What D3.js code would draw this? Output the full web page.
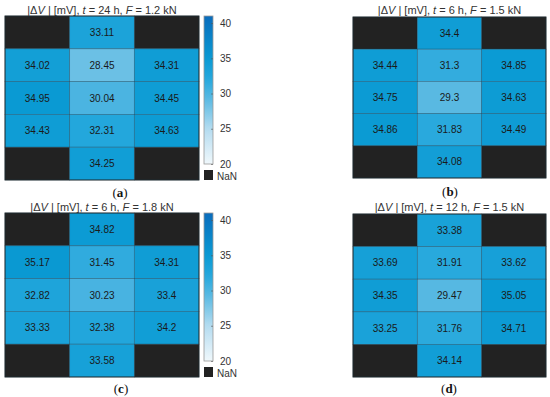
<!DOCTYPE html>
<html><head><meta charset="utf-8">
<script src="https://cdn.jsdelivr.net/npm/d3@7"></script>
<style>
body{margin:0;background:#fff;}
svg{display:block;font-family:"Liberation Sans",Arial,sans-serif;}
</style></head>
<body>
<svg id="c" width="550" height="397"></svg>
<script>
// ---- data ----
const rows = ["r1","r2","r3","r4","r5"];
const cols = ["c1","c2","c3"];
const valuesA = [[NaN,33.11,NaN],[34.02,28.45,34.31],[34.95,30.04,34.45],[34.43,32.31,34.63],[NaN,34.25,NaN]];
const valuesB = [[NaN,34.4,NaN],[34.44,31.3,34.85],[34.75,29.3,34.63],[34.86,31.83,34.49],[NaN,34.08,NaN]];
const valuesC = [[NaN,34.82,NaN],[35.17,31.45,34.31],[32.82,30.23,33.4],[33.33,32.38,34.2],[NaN,33.58,NaN]];
const valuesD = [[NaN,33.38,NaN],[33.69,31.91,33.62],[34.35,29.47,35.05],[33.25,31.76,34.71],[NaN,34.14,NaN]];
const times = ["24","6","6","12"];
const forces = ["1.2","1.5","1.8","1.5"];
const letters = ["a","b","c","d"];
const cbTicks = [20,25,30,35,40];
const cbDomain = [20,41];

// ---- layout ----
const panels = [
  {vals:valuesA, x0:5,   x1:199, y0:16,  y1:180, cb:true,  title:10,  lab:192, labx:120},
  {vals:valuesB, x0:353, x1:546, y0:17,  y1:178, cb:false, title:10,  lab:191, labx:450},
  {vals:valuesC, x0:5,   x1:199, y0:213, y1:377, cb:true,  title:207, lab:388, labx:121},
  {vals:valuesD, x0:353, x1:546, y0:214, y1:377, cb:false, title:207, lab:388, labx:449}
];

const color = d3.scaleLinear()
  .domain([20,25,29,32,35,41])
  .range(["#f0f8fc","#b4dcf0","#5fbbe3","#26a8dd","#0a9ad3","#0a6cbc"])
  .clamp(true);

const svg = d3.select("#c");

panels.forEach((p,i)=>{
  const g = svg.append("g");
  const x = d3.scaleBand().domain(cols).range([p.x0,p.x1]);
  const y = d3.scaleBand().domain(rows).range([p.y0,p.y1]);
  const cells = [];
  p.vals.forEach((r,ri)=>r.forEach((v,ci)=>cells.push({r:rows[ri],c:cols[ci],v})));
  g.selectAll("rect.cell").data(cells).join("rect")
    .attr("class","cell")
    .attr("x",d=>x(d.c)).attr("y",d=>y(d.r))
    .attr("width",x.bandwidth()).attr("height",y.bandwidth())
    .attr("fill",d=>isNaN(d.v)?"#222222":color(d.v))
    .attr("stroke","#1d4d66").attr("stroke-opacity",0.6).attr("stroke-width",0.7);
  g.selectAll("text.val").data(cells.filter(d=>!isNaN(d.v))).join("text")
    .attr("class","val")
    .attr("x",d=>x(d.c)+x.bandwidth()/2).attr("y",d=>y(d.r)+y.bandwidth()/2)
    .attr("text-anchor","middle").attr("dominant-baseline","central")
    .attr("font-size","10px").attr("fill","#1a1a1a")
    .text(d=>String(d.v));
  g.append("rect").attr("x",p.x0).attr("y",p.y0).attr("width",p.x1-p.x0).attr("height",p.y1-p.y0)
    .attr("fill","none").attr("stroke","#222").attr("stroke-width",0.8);

  // title
  const t = g.append("text").attr("x",(p.x0+p.x1)/2).attr("y",p.title)
    .attr("text-anchor","middle").attr("dominant-baseline","central")
    .attr("font-size","11px").attr("fill","#333");
  t.append("tspan").text("|Δ");
  t.append("tspan").attr("font-style","italic").text("V");
  t.append("tspan").text(" | [mV], ");
  t.append("tspan").attr("font-style","italic").text("t");
  t.append("tspan").text(" = "+times[i]+" h, ");
  t.append("tspan").attr("font-style","italic").text("F");
  t.append("tspan").text(" = "+forces[i]+" kN");

  // panel label
  const l = g.append("text").attr("x",p.labx).attr("y",p.lab)
    .attr("text-anchor","middle").attr("dominant-baseline","central")
    .attr("font-family","'Liberation Serif','Times New Roman',serif")
    .attr("font-size","13px").attr("fill","#111");
  l.append("tspan").text("(");
  l.append("tspan").attr("font-weight","bold").text(letters[i]);
  l.append("tspan").text(")");

  if(p.cb){
    const cbx = 204, cbw = 9;
    const cy0 = p.y0, cy1 = p.y1-16;
    const ys = d3.scaleLinear().domain(cbDomain).range([cy1,cy0]);
    const gid = "grad"+i;
    const grad = svg.append("defs").append("linearGradient").attr("id",gid)
      .attr("x1","0").attr("y1","1").attr("x2","0").attr("y2","0");
    d3.range(0,1.0001,0.05).forEach(f=>{
      const v = cbDomain[0]+f*(cbDomain[1]-cbDomain[0]);
      grad.append("stop").attr("offset",f).attr("stop-color",color(v));
    });
    g.append("rect").attr("x",cbx).attr("y",cy0).attr("width",cbw).attr("height",cy1-cy0)
      .attr("fill","url(#"+gid+")").attr("stroke","#9a9a9a").attr("stroke-width",0.8);
    const ax = g.append("g").attr("transform",`translate(${cbx+cbw},0)`)
      .call(d3.axisLeft(ys).tickValues(cbTicks).tickSize(2).tickPadding(-9));
    ax.select(".domain").remove();
    ax.selectAll(".tick line").attr("stroke","#555").attr("stroke-width",0.6);
    ax.selectAll(".tick text").attr("text-anchor","start").attr("font-size","10px")
      .attr("fill","#333").attr("font-family","'Liberation Sans',Arial,sans-serif");
    // NaN box
    g.append("rect").attr("x",cbx).attr("y",p.y1-10).attr("width",cbw).attr("height",10)
      .attr("fill","#222222");
    g.append("text").attr("x",cbx+cbw+4).attr("y",p.y1-4).attr("dominant-baseline","central")
      .attr("font-size","10px").attr("fill","#333").text("NaN");
  }
});
</script>
</body></html>
